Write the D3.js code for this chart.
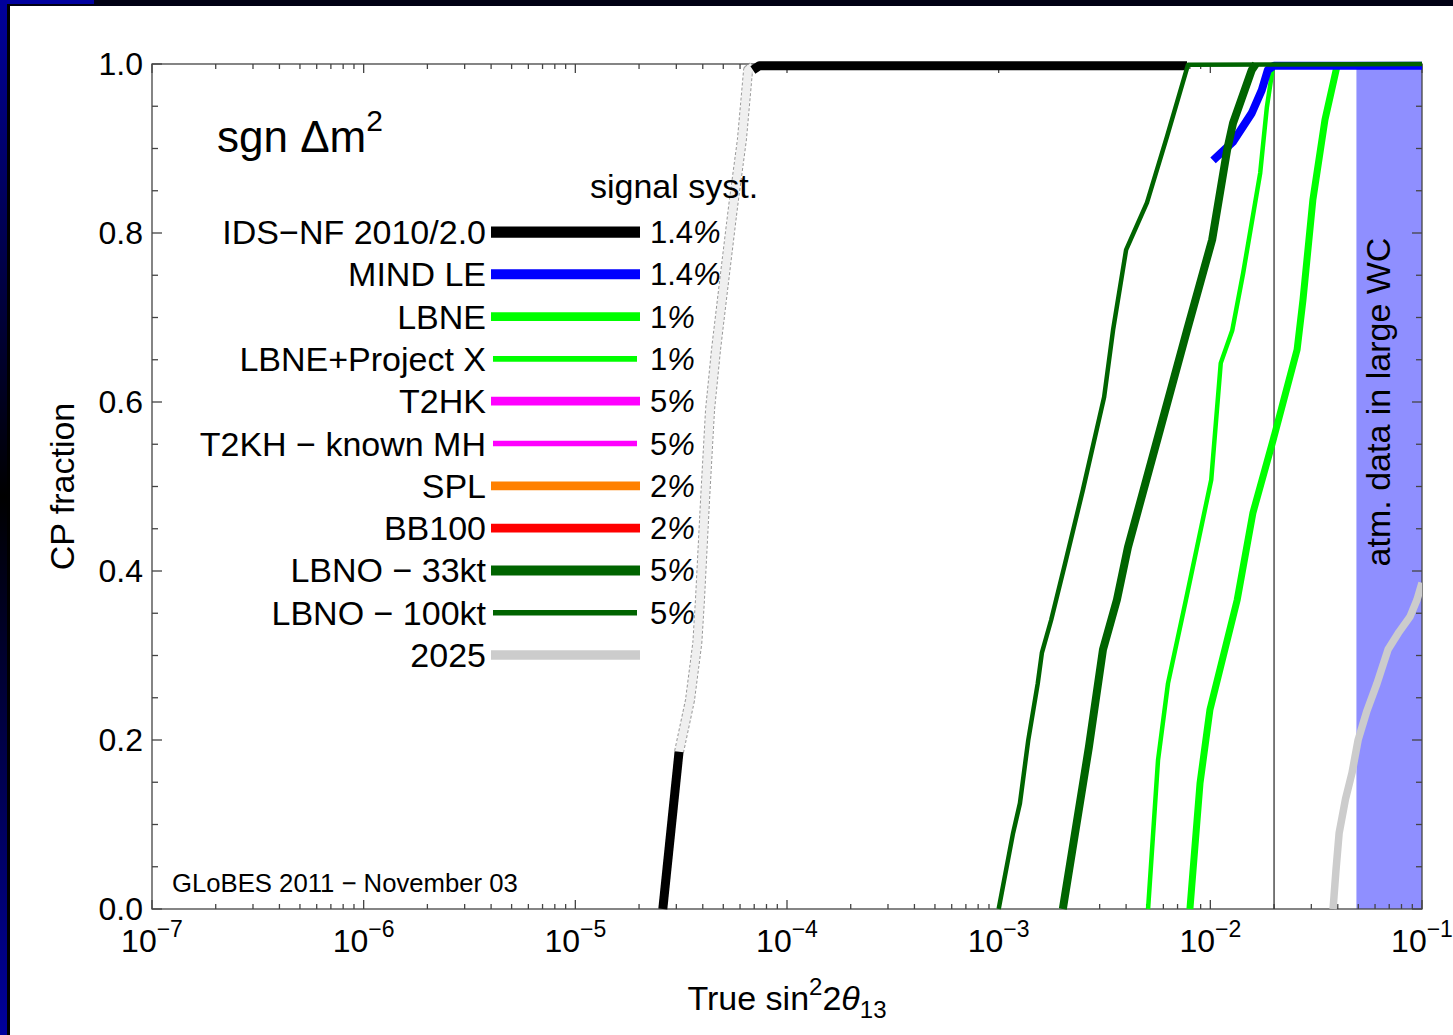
<!DOCTYPE html>
<html>
<head>
<meta charset="utf-8">
<script src="https://cdn.jsdelivr.net/npm/d3@7"></script>
<style>
  html, body { margin: 0; padding: 0; background: #fff; }
  svg { display: block; font-family: "Liberation Sans", Arial, Helvetica, sans-serif; }
</style>
</head>
<body>
<svg id="chart" width="1453" height="1035"></svg>
<script>
// ---- legend entries -------------------------------------------------------
const seriesNames = ["IDS\u2212NF 2010/2.0", "MIND LE", "LBNE", "LBNE+Project X", "T2HK",
  "T2KH \u2212 known MH", "SPL", "BB100", "LBNO \u2212 33kt", "LBNO \u2212 100kt", "2025"];
const signalSyst = ["1.4", "1.4", "1", "1", "5", "5", "2", "2", "5", "5", ""];

// ---- curves: [true sin^2 2theta13, CP fraction] ----------------------------
const idsLow = [[2.59e-5, 0], [3.09e-5, 0.186]];
const idsFaded = [[3.09e-5, 0.186], [3.48e-5, 0.247], [3.77e-5, 0.315], [3.88e-5, 0.366],
  [4.10e-5, 0.484], [4.33e-5, 0.591], [4.62e-5, 0.662], [4.99e-5, 0.733], [5.56e-5, 0.831],
  [6.12e-5, 0.910], [6.55e-5, 0.993], [6.90e-5, 0.997]];
const idsHigh = [[6.90e-5, 0.993], [7.40e-5, 0.998], [7.76e-3, 0.998]];
const mindLE = [[1.03e-2, 0.886], [1.28e-2, 0.908], [1.57e-2, 0.942], [1.75e-2, 0.969],
  [1.87e-2, 0.993], [2.00e-2, 0.998], [1.00e-1, 0.998]];
const lbne = [[8.01e-3, 0], [8.94e-3, 0.149], [9.96e-3, 0.236], [1.34e-2, 0.366],
  [1.59e-2, 0.469], [1.98e-2, 0.555], [2.57e-2, 0.662], [2.74e-2, 0.721], [3.05e-2, 0.839],
  [3.48e-2, 0.934], [3.97e-2, 0.998]];
const lbnePX = [[5.08e-3, 0], [5.66e-3, 0.176], [6.31e-3, 0.267], [7.67e-3, 0.366],
  [1.01e-2, 0.508], [1.12e-2, 0.646], [1.27e-2, 0.685], [1.43e-2, 0.753], [1.72e-2, 0.871],
  [1.85e-2, 0.949], [1.98e-2, 0.998]];
const lbno33 = [[2.01e-3, 0], [2.67e-3, 0.192], [3.11e-3, 0.307], [3.62e-3, 0.366],
  [4.08e-3, 0.428], [5.78e-3, 0.567], [7.76e-3, 0.685], [1.02e-2, 0.792], [1.20e-2, 0.898],
  [1.28e-2, 0.930], [1.57e-2, 0.993], [1.64e-2, 1.0]];
const lbno100 = [[1.00e-3, 0], [1.17e-3, 0.090], [1.26e-3, 0.125], [1.38e-3, 0.200],
  [1.53e-3, 0.267], [1.60e-3, 0.303], [1.77e-3, 0.342], [2.06e-3, 0.409], [2.50e-3, 0.496],
  [3.15e-3, 0.606], [3.47e-3, 0.685], [4.00e-3, 0.780], [5.02e-3, 0.836], [6.24e-3, 0.914],
  [7.84e-3, 0.999], [1.00e-1, 1.0]];
const future2025 = [[3.80e-2, 0], [3.92e-2, 0.045], [4.06e-2, 0.090], [4.35e-2, 0.130],
  [4.67e-2, 0.161], [4.99e-2, 0.200], [5.50e-2, 0.235], [6.13e-2, 0.267], [6.91e-2, 0.307],
  [7.80e-2, 0.328], [8.78e-2, 0.346], [9.47e-2, 0.366], [1.00e-1, 0.386]];

// reference markers
const currentLimit = 2e-2;          // vertical line
const atmRegion = [4.9e-2, 1e-1];    // shaded band

// ---- styles -----------------------------------------------------------------
const seriesColors = ["#000000", "#0000ff", "#00ff00", "#00ff00", "#ff00ff", "#ff00ff",
  "#ff8000", "#ff0000", "#006400", "#006400", "#cccccc"];
const seriesWidths = [9, 8, 7, 4.5, 7, 4.5, 7, 7, 8, 4.5, 7.5];

// ---- scales -----------------------------------------------------------------
const x = d3.scaleLog().domain([1e-7, 1e-1]).range([152, 1422]);
const y = d3.scaleLinear().domain([0, 1]).range([909, 64]);
const line = d3.line().x(d => x(d[0])).y(d => y(d[1]));

const svg = d3.select("#chart");
const defs = svg.append("defs");

// page background with dark edge strips
svg.append("rect").attr("width", 1453).attr("height", 1035).attr("fill", "#fff");
const g1 = defs.append("linearGradient").attr("id", "edgeV")
  .attr("x1", 0).attr("y1", 0).attr("x2", 0).attr("y2", 1);
g1.append("stop").attr("offset", 0).attr("stop-color", "#00009c");
g1.append("stop").attr("offset", 0.48).attr("stop-color", "#000000");
g1.append("stop").attr("offset", 1).attr("stop-color", "#00009c");
svg.append("rect").attr("x", 0).attr("y", 0).attr("width", 1453).attr("height", 6).attr("fill", "#000014");
svg.append("rect").attr("x", 0).attr("y", 0).attr("width", 94).attr("height", 4).attr("fill", "#0000a0");
svg.append("rect").attr("x", 0).attr("y", 0).attr("width", 7).attr("height", 1035).attr("fill", "url(#edgeV)");
svg.append("rect").attr("x", 7).attr("y", 4).attr("width", 3).attr("height", 1031).attr("fill", "#000");

defs.append("clipPath").attr("id", "plotClip").append("rect")
  .attr("x", x.range()[0]).attr("y", y(1) - 8)
  .attr("width", x.range()[1] - x.range()[0]).attr("height", y(0) - y(1) + 10);

const plot = svg.append("g").attr("clip-path", "url(#plotClip)");

// shaded atmospheric band
plot.append("rect")
  .attr("x", x(atmRegion[0])).attr("y", y(1))
  .attr("width", x(atmRegion[1]) - x(atmRegion[0])).attr("height", y(0) - y(1))
  .attr("fill", "#8f8fff");

// ---- frame and ticks (under the curves) -----------------------------------------
const axisColor = "#444";
const axes = svg.append("g").attr("stroke", axisColor).attr("stroke-width", 1.3);
axes.append("rect")
  .attr("x", x.range()[0]).attr("y", y(1))
  .attr("width", x.range()[1] - x.range()[0]).attr("height", y(0) - y(1))
  .attr("fill", "none");

const xTicks = x.ticks();
const isDecade = v => Math.abs(Math.log10(v) - Math.round(Math.log10(v))) < 1e-9;
xTicks.forEach(v => {
  const len = isDecade(v) ? 9 : 5;
  axes.append("line").attr("x1", x(v)).attr("x2", x(v)).attr("y1", y(0)).attr("y2", y(0) - len);
  axes.append("line").attr("x1", x(v)).attr("x2", x(v)).attr("y1", y(1)).attr("y2", y(1) + len);
});
const yTicks = y.ticks(20);
const isMajorY = v => Math.abs(v * 5 - Math.round(v * 5)) < 1e-9;
yTicks.forEach(v => {
  const len = isMajorY(v) ? 10 : 6;
  axes.append("line").attr("x1", x.range()[0]).attr("x2", x.range()[0] + len).attr("y1", y(v)).attr("y2", y(v));
  axes.append("line").attr("x1", x.range()[1]).attr("x2", x.range()[1] - len).attr("y1", y(v)).attr("y2", y(v));
});

const curves = svg.append("g").attr("clip-path", "url(#plotClip)");

// vertical reference line
curves.append("line")
  .attr("x1", x(currentLimit)).attr("x2", x(currentLimit))
  .attr("y1", y(0)).attr("y2", y(1))
  .attr("stroke", "#333").attr("stroke-width", 1.3);

function curve(data, color, width) {
  curves.append("path").attr("d", line(data))
    .attr("fill", "none").attr("stroke", color).attr("stroke-width", width)
    .attr("stroke-linejoin", "round").attr("stroke-linecap", "butt");
}

curve(future2025, seriesColors[10], seriesWidths[10]);
curve(lbnePX, seriesColors[3], seriesWidths[3]);
curve(lbne, seriesColors[2], seriesWidths[2]);
curve(mindLE, seriesColors[1], seriesWidths[1]);

// faded part of the IDS-NF curve: pale band with dashed rims
curves.append("path").attr("d", line(idsFaded))
  .attr("fill", "none").attr("stroke", "#9a9a9a").attr("stroke-width", 10)
  .attr("stroke-dasharray", "3,2").attr("stroke-linejoin", "round");
curves.append("path").attr("d", line(idsFaded))
  .attr("fill", "none").attr("stroke", "#efefef").attr("stroke-width", 8)
  .attr("stroke-linejoin", "round");

curve(idsLow, seriesColors[0], seriesWidths[0]);
curve(idsHigh, seriesColors[0], seriesWidths[0]);
curve(lbno33, seriesColors[8], seriesWidths[8]);
curve(lbno100, seriesColors[9], seriesWidths[9]);

// tick labels
const labels = svg.append("g").attr("fill", "#000");
const fmtY = d3.format(".1f");
yTicks.filter(isMajorY).forEach(v => {
  labels.append("text").attr("x", 143).attr("y", y(v) + 11)
    .attr("text-anchor", "end").attr("font-size", 32).text(fmtY(v));
});
xTicks.filter(isDecade).forEach(v => {
  const t = labels.append("text").attr("x", x(v)).attr("y", 952)
    .attr("text-anchor", "middle").attr("font-size", 32);
  t.append("tspan").text("10");
  t.append("tspan").attr("font-size", 23).attr("dy", -15)
    .text("\u2212" + Math.abs(Math.round(Math.log10(v))));
});

// axis titles
const xt = labels.append("text").attr("x", (x.range()[0] + x.range()[1]) / 2).attr("y", 1010)
  .attr("text-anchor", "middle").attr("font-size", 34);
xt.append("tspan").text("True sin");
xt.append("tspan").attr("font-size", 24).attr("dy", -15).text("2");
xt.append("tspan").attr("dy", 15).text("2");
xt.append("tspan").attr("font-style", "italic").text("\u03b8");
xt.append("tspan").attr("font-size", 24).attr("dy", 8).text("13");

labels.append("text")
  .attr("transform", `translate(74,${(y(0) + y(1)) / 2}) rotate(-90)`)
  .attr("text-anchor", "middle").attr("font-size", 34).text("CP fraction");

// band label
labels.append("text")
  .attr("transform", `translate(1390,402) rotate(-90)`)
  .attr("text-anchor", "middle").attr("font-size", 34).text("atm. data in large WC");

// heading inside the plot
const hd = labels.append("text").attr("x", 217).attr("y", 152).attr("font-size", 44);
hd.append("tspan").text("sgn \u0394m");
hd.append("tspan").attr("font-size", 30).attr("dy", -21).text("2");

labels.append("text").attr("x", 590).attr("y", 198).attr("font-size", 34).text("signal syst.");

labels.append("text").attr("x", 172).attr("y", 892).attr("font-size", 25.7)
  .text("GLoBES 2011 \u2212 November 03");

// ---- legend -----------------------------------------------------------------
const legendRow = d3.scaleLinear().domain([0, seriesNames.length - 1]).range([232, 655]);
const legend = svg.append("g");
seriesNames.forEach((name, i) => {
  const ly = legendRow(i);
  const thin = seriesWidths[i] < 6;
  legend.append("line")
    .attr("x1", thin ? 493 : 491).attr("x2", thin ? 637 : 640)
    .attr("y1", ly).attr("y2", ly)
    .attr("stroke", seriesColors[i]).attr("stroke-width", seriesWidths[i] * 1.25);
  legend.append("text").attr("x", 486).attr("y", ly + 12)
    .attr("text-anchor", "end").attr("font-size", 34).text(name);
  if (signalSyst[i]) {
    const t = legend.append("text").attr("x", 650).attr("y", ly + 11).attr("font-size", 31);
    t.append("tspan").text(signalSyst[i]);
    t.append("tspan").attr("font-style", "italic").text("%");
  }
});
</script>
</body>
</html>
